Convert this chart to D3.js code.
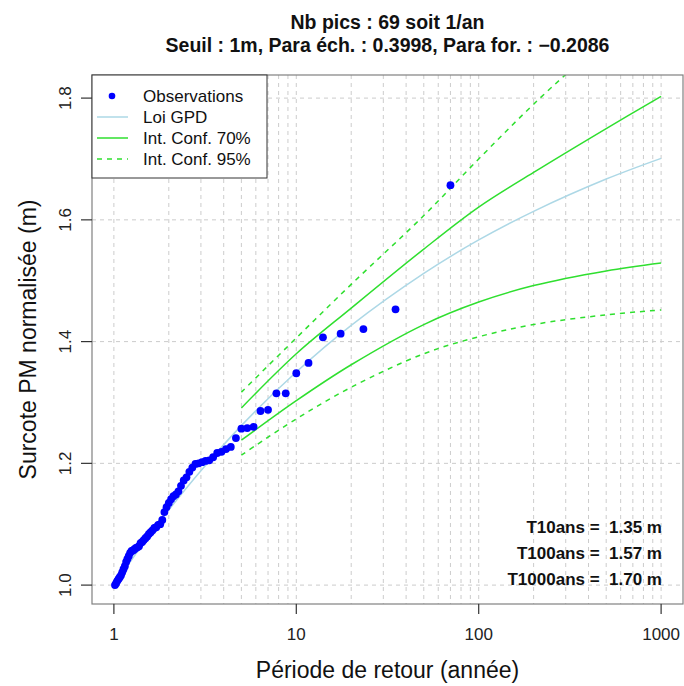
<!DOCTYPE html>
<html><head><meta charset="utf-8">
<script src="https://cdn.jsdelivr.net/npm/d3@7"></script>
<style>body{margin:0;background:#fff}svg{display:block;font-family:"Liberation Sans",Arial,sans-serif}</style>
</head><body>
<script>
// ---- data ----
const titleLines = ["Nb pics : 69 soit 1/an", "Seuil : 1m, Para éch. : 0.3998, Para for. : \u22120.2086"];
const xTicks = [1, 10, 100, 1000];
const yTicks = [1.0, 1.2, 1.4, 1.6, 1.8];
const obsT = [70, 35, 23.333, 17.5, 14, 11.667, 10, 8.75, 7.778, 7, 6.364, 5.833, 5.385, 5, 4.667, 4.375, 4.118, 3.889, 3.684, 3.5,
  3.333, 3.182, 3.043, 2.917, 2.8, 2.692, 2.593, 2.5, 2.414, 2.333, 2.258, 2.188, 2.121, 2.059, 2, 1.944, 1.892, 1.842, 1.795, 1.75,
  1.707, 1.667, 1.628, 1.591, 1.556, 1.522, 1.489, 1.458, 1.429, 1.4, 1.373, 1.346, 1.321, 1.296, 1.273, 1.25, 1.228, 1.207, 1.186, 1.167,
  1.148, 1.129, 1.111, 1.094, 1.077, 1.061, 1.045, 1.029, 1.014];
const obsVal = [1.657, 1.453, 1.4205, 1.413, 1.407, 1.365, 1.348, 1.315, 1.315, 1.288, 1.286, 1.260, 1.258, 1.257, 1.2415, 1.227, 1.2235, 1.219, 1.217, 1.210,
  1.205, 1.204, 1.202, 1.200, 1.199, 1.193, 1.186, 1.177, 1.172, 1.163, 1.154, 1.149, 1.146, 1.141, 1.135, 1.128, 1.120, 1.107, 1.100, 1.099,
  1.095, 1.094, 1.090, 1.087, 1.084, 1.080, 1.077, 1.074, 1.071, 1.069, 1.064, 1.062, 1.061, 1.059, 1.057, 1.056, 1.053, 1.048, 1.043, 1.038,
  1.031, 1.026, 1.021, 1.016, 1.013, 1.010, 1.007, 1.003, 1.000];
const gpdT = [1, 1.5, 2, 3, 5, 10, 20, 50, 100, 200, 500, 1000];
const gpdVal = [1.0, 1.0745, 1.1236, 1.188, 1.262, 1.350, 1.4266, 1.512, 1.567, 1.614, 1.667, 1.701];
const ciT = [5, 10, 20, 50, 100, 200, 500, 1000];
const ci70Up = [1.291, 1.380, 1.455, 1.552, 1.621, 1.678, 1.750, 1.803];
const ci70Lo = [1.238, 1.303, 1.362, 1.428, 1.465, 1.492, 1.516, 1.529];
const ci95Up = [1.317, 1.406, 1.494, 1.607, 1.700, 1.790, 1.900, 1.990];
const ci95Lo = [1.2135, 1.273, 1.325, 1.380, 1.408, 1.428, 1.444, 1.452];
const legendLabels = ["Observations", "Loi GPD", "Int. Conf. 70%", "Int. Conf. 95%"];
const annot = ["T10ans =  1.35 m", "T100ans =  1.57 m", "T1000ans =  1.70 m"];

// ---- layout ----
const W = 684, H = 686;
const L = 92, R = 683, T = 75, B = 604;
const svg = d3.select("body").append("svg").attr("width", W).attr("height", H);

const x = d3.scaleLog().domain([Math.pow(10, -0.12), Math.pow(10, 3.12)]).range([L, R]);
const y = d3.scaleLinear().domain([0.96895, 1.83795]).range([B, T]);

const green = "#2fdf2f";

// grid
const gridX = [];
[1, 10, 100].forEach(d => { for (let k = 1; k < 10; k++) gridX.push(d * k); });
gridX.push(1000);
svg.append("g").selectAll("line").data(gridX).join("line")
  .attr("x1", d => x(d)).attr("x2", d => x(d)).attr("y1", T).attr("y2", B)
  .attr("stroke", "#cccccc").attr("stroke-dasharray", "4,4").attr("stroke-width", 1);
svg.append("g").selectAll("line").data(yTicks).join("line")
  .attr("x1", L).attr("x2", R).attr("y1", d => y(d)).attr("y2", d => y(d))
  .attr("stroke", "#cccccc").attr("stroke-dasharray", "4,4").attr("stroke-width", 1);

// clip
svg.append("clipPath").attr("id", "clip").append("rect")
  .attr("x", L).attr("y", T).attr("width", R - L).attr("height", B - T);
const plot = svg.append("g").attr("clip-path", "url(#clip)");

const line = d3.line().x(d => x(d[0])).y(d => y(d[1])).curve(d3.curveCatmullRom.alpha(0.5));
const zipT = (ts, vs) => ts.map((t, i) => [t, vs[i]]);

plot.append("path").attr("d", line(zipT(gpdT, gpdVal))).attr("fill", "none").attr("stroke", "#add8e6").attr("stroke-width", 1.5);
[ci70Up, ci70Lo].forEach(s => plot.append("path").attr("d", line(zipT(ciT, s))).attr("fill", "none").attr("stroke", green).attr("stroke-width", 1.5));
[ci95Up, ci95Lo].forEach(s => plot.append("path").attr("d", line(zipT(ciT, s))).attr("fill", "none").attr("stroke", green).attr("stroke-width", 1.5).attr("stroke-dasharray", "5,5"));

plot.append("g").selectAll("circle").data(zipT(obsT, obsVal)).join("circle")
  .attr("cx", d => x(d[0])).attr("cy", d => y(d[1])).attr("r", 3.9).attr("fill", "#0000ff");

// box
svg.append("rect").attr("x", L).attr("y", T).attr("width", R - L).attr("height", B - T)
  .attr("fill", "none").attr("stroke", "#808080").attr("stroke-width", 1.2);

// x axis
const xa = svg.append("g");
xTicks.forEach(t => {
  xa.append("line").attr("x1", x(t)).attr("x2", x(t)).attr("y1", B).attr("y2", B + 10).attr("stroke", "#333").attr("stroke-width", 1.2);
  xa.append("text").attr("x", x(t)).attr("y", 640).attr("text-anchor", "middle").attr("font-size", 17).attr("fill", "#222").text(d3.format("d")(t));
});
// y axis
const ya = svg.append("g");
yTicks.forEach(t => {
  ya.append("line").attr("x1", L - 11).attr("x2", L).attr("y1", y(t)).attr("y2", y(t)).attr("stroke", "#333").attr("stroke-width", 1.2);
  ya.append("text").attr("transform", `translate(71,${y(t)}) rotate(-90)`).attr("text-anchor", "middle")
    .attr("font-size", 17).attr("fill", "#222").text(d3.format(".1f")(t));
});

// axis titles
svg.append("text").attr("x", (L + R) / 2).attr("y", 678).attr("text-anchor", "middle").attr("font-size", 23).attr("fill", "#111").text("Période de retour (année)");
svg.append("text").attr("transform", `translate(36,${(T + B) / 2}) rotate(-90)`).attr("text-anchor", "middle").attr("font-size", 23).attr("fill", "#111").text("Surcote PM normalisée (m)");

// title
titleLines.forEach((s, i) => svg.append("text").attr("x", (L + R) / 2).attr("y", 29 + i * 23).attr("text-anchor", "middle")
  .attr("font-size", 19.5).attr("font-weight", "bold").attr("fill", "#111").text(s));

// legend
const lg = svg.append("g");
lg.append("rect").attr("x", L).attr("y", T).attr("width", 175).attr("height", 103).attr("fill", "#fff").attr("stroke", "#333").attr("stroke-width", 1);
legendLabels.forEach((s, i) => {
  const yy = 96 + i * 21;
  if (i === 0) lg.append("circle").attr("cx", 112).attr("cy", yy).attr("r", 3.3).attr("fill", "#0000ff");
  else lg.append("line").attr("x1", 97).attr("x2", 128).attr("y1", yy).attr("y2", yy)
    .attr("stroke", i === 1 ? "#add8e6" : green).attr("stroke-width", 1.5).attr("stroke-dasharray", i === 3 ? "5,5" : null);
  lg.append("text").attr("x", 143).attr("y", yy + 6).attr("font-size", 17).attr("fill", "#111").text(s);
});

// annotations
annot.forEach((s, i) => svg.append("text").attr("x", 662).attr("y", 533 + i * 26).attr("text-anchor", "end")
  .attr("font-size", 17).attr("font-weight", "bold").attr("fill", "#111").attr("xml:space", "preserve").style("white-space", "pre").text(s));
</script>
</body></html>
